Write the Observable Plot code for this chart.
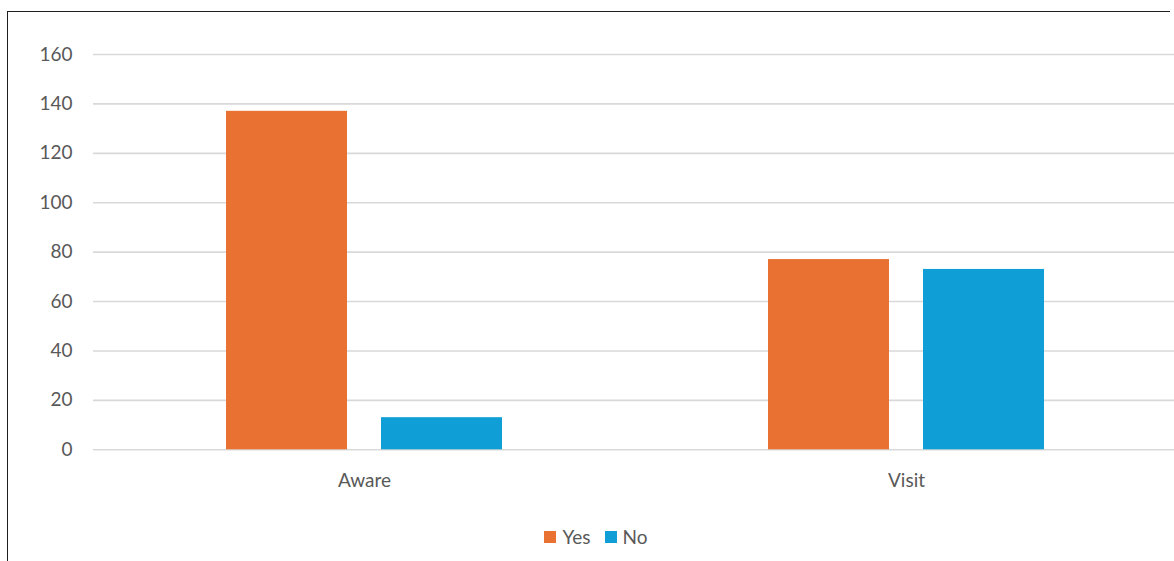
<!DOCTYPE html>
<html>
<head>
<meta charset="utf-8">
<script src="https://cdn.jsdelivr.net/npm/d3@7"></script>
<script src="https://cdn.jsdelivr.net/npm/@observablehq/plot@0.6"></script>
<style>
  html, body { margin: 0; padding: 0; background: #fff; overflow: hidden; }
  body { font-family: Lato, "Open Sans", sans-serif; width: 1174px; height: 561px; position: relative; }
  #frame {
    position: absolute; left: 7px; top: 11px; width: 1162px; height: 560px;
    border-left: 1px solid #1f1f1f; border-top: 1px solid #1f1f1f;
  }
  #chart { position: absolute; left: 0; top: 0; }
  #chart svg { max-width: none; }
  #legend {
    position: absolute; left: 0; top: 527px; width: 1192px;
    display: flex; justify-content: center; align-items: center;
    font-size: 19px; color: #595959; line-height: 20px;
  }
  .item { display: flex; align-items: center; margin: 0 7px; }
  .swatch { width: 12px; height: 12px; margin-right: 6px; }
</style>
</head>
<body>
<div id="frame"></div>
<div id="chart"></div>
<div id="legend"></div>
<script>
// Survey answers per question
const categories = ["Aware", "Visit"];
const series = ["Yes", "No"];
const yesValues = [137, 77];
const noValues = [13, 73];
const colors = ["#E97132", "#0F9ED5"];
const yTicks = [0, 20, 40, 60, 80, 100, 120, 140, 160];

const rows = categories.flatMap((category, i) => [
  {category, series: "Yes", value: yesValues[i]},
  {category, series: "No", value: noValues[i]}
]);

const chart = Plot.plot({
  width: 1174,
  height: 500,
  marginTop: 54,
  marginBottom: 50.7,
  marginLeft: 93,
  marginRight: -3,
  style: {
    fontFamily: "Lato, 'Open Sans', sans-serif",
    fontSize: "19px",
    color: "#595959",
    background: "transparent",
    overflow: "visible"
  },
  fx: {domain: categories, padding: 0, label: null},
  x: {domain: series, paddingInner: 0.2194, paddingOuter: 0.858, axis: null},
  y: {domain: [0, 160], label: null},
  color: {domain: series, range: colors},
  marks: [
    Plot.gridY(yTicks, {stroke: "#d9d9d9", strokeOpacity: 1, strokeWidth: 1.6}),
    Plot.axisY(yTicks, {tickSize: 0, tickPadding: 21, label: null}),
    Plot.axisFx({anchor: "bottom", tickSize: 0, tickPadding: 24, label: null}),
    Plot.barY(rows, {fx: "category", x: "series", y: "value", fill: "series"})
  ]
});
document.getElementById("chart").append(chart);

// Legend below the plot
const legend = document.getElementById("legend");
series.forEach((name, i) => {
  const item = document.createElement("div");
  item.className = "item";
  const sw = document.createElement("span");
  sw.className = "swatch";
  sw.style.background = colors[i];
  const label = document.createElement("span");
  label.textContent = name;
  item.append(sw, label);
  legend.append(item);
});
</script>
</body>
</html>
